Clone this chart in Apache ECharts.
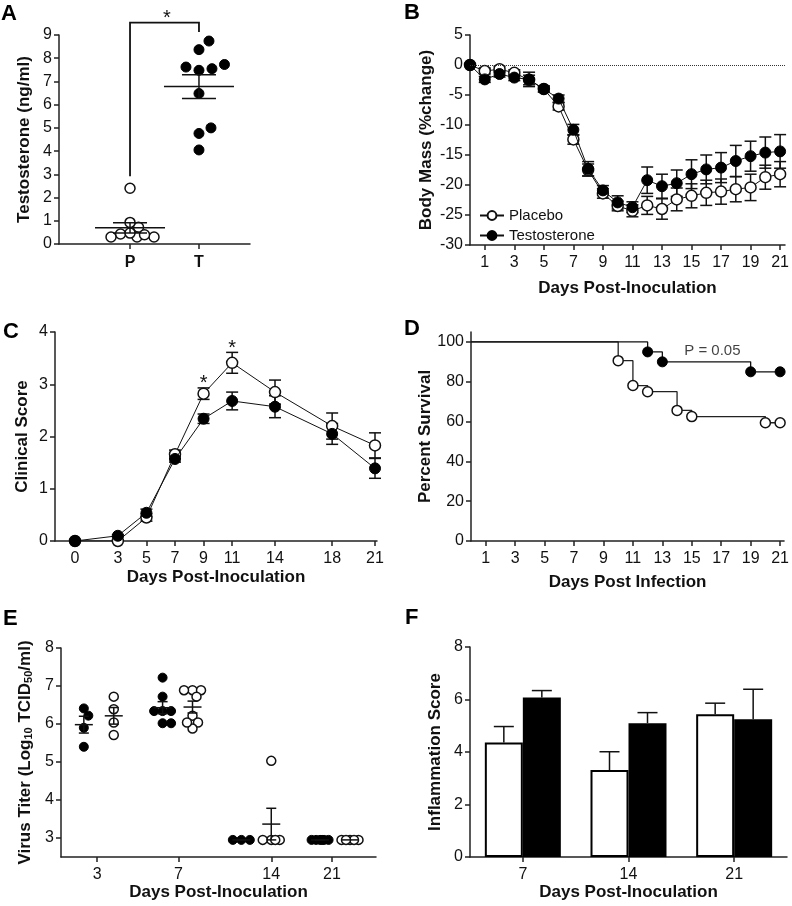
<!DOCTYPE html>
<html>
<head>
<meta charset="utf-8">
<script src="https://cdn.jsdelivr.net/npm/echarts@6/dist/echarts.min.js"></script>
<style>
html,body{margin:0;padding:0;background:#fff;}
#chart{width:792px;height:906px;}
</style>
</head>
<body>
<div id="chart"></div>
<script>
// ---------------- DATA ----------------
// Panel A: serum testosterone (ng/ml)
const aCategories = ['P', 'T'];
const aPlacebo = [2.4, 0.72, 0.93, 0.43, 0.30, 0.30, 0.30, 0.40, 0.47];
const aTestosterone = [8.74, 8.37, 7.73, 7.55, 7.48, 7.62, 6.48, 5.0, 4.76, 4.05];

// Panel B: body mass (% change)
const bDays = [0,1,2,3,4,5,6,7,8,9,10,11,12,13,14,15,16,17,18,19,20,21];
const bPlacebo = [0,-1.0,-0.7,-1.3,-2.5,-4.0,-6.9,-12.4,-17.5,-21.4,-23.5,-24.3,-23.4,-24.0,-22.4,-21.8,-21.3,-21.1,-20.7,-20.4,-18.7,-18.2];
const bPlaceboSem = [0,0.5,0.5,0.5,0.8,0.5,0.6,0.8,1.0,0.8,0.8,1.0,1.5,1.7,1.9,2.0,2.1,2.1,2.1,2.2,2.0,2.1];
const bTestosterone = [0,-2.4,-1.5,-2.1,-2.4,-4.0,-5.6,-10.8,-17.3,-20.9,-22.9,-23.7,-19.2,-20.2,-19.7,-18.2,-17.4,-17.1,-16.0,-15.2,-14.6,-14.4];
const bTestosteroneSem = [0,0.5,0.5,0.5,1.2,0.5,0.6,0.9,1.2,0.8,1.1,0.9,2.2,2.0,2.2,2.4,2.4,2.5,2.6,2.5,2.6,2.8];
const bXTicks = [1,3,5,7,9,11,13,15,17,19,21];

// Panel C: clinical score
const cDays = [0,3,5,7,9,11,14,18,21];
const cPlacebo = [0,0,0.45,1.66,2.82,3.41,2.85,2.2,1.83];
const cPlaceboSem = [0,0,0.07,0.08,0.11,0.2,0.23,0.25,0.24];
const cTestosterone = [0,0.1,0.54,1.57,2.34,2.68,2.57,2.05,1.39];
const cTestosteroneSem = [0,0.02,0.07,0.06,0.09,0.17,0.21,0.2,0.19];
const cSignificantDays = [9, 11];

// Panel D: survival (Kaplan-Meier)
const dPlaceboDays = [0,10,11,12,14,15,20,21];
const dPlaceboSurvival = [100,90.6,78.1,75.0,65.6,62.5,59.4,59.4];
const dTestosteroneDays = [0,12,13,19,21];
const dTestosteroneSurvival = [100,95,90,85,85];
const dXTicks = [1,3,5,7,9,11,13,15,17,19,21];
const dYTicks = [0,20,40,60,80,100];
const dPValue = 'P = 0.05';

// Panel E: virus titer (log10 TCID50/ml)
const eDays = ['3','7','14','21'];
const eTestosterone = [
  [6.22,6.41,5.90,5.40],
  [7.22,6.72,6.34,6.34,6.34,6.02,6.02],
  [2.95,2.95,2.95],
  [2.95,2.95,2.95,2.95,2.95,2.95]
];
const ePlacebo = [
  [6.72,6.39,6.04,5.71],
  [6.89,6.89,6.89,6.72,6.22,6.04,5.88,6.04],
  [5.03,2.95,2.95,2.95,2.95],
  [2.95,2.95,2.95,2.95,2.95]
];
const eYTicks = [3,4,5,6,7,8];

// Panel F: inflammation score
const fDays = ['7','14','21'];
const fPlacebo = [4.36,3.31,5.44];
const fPlaceboSem = [0.61,0.70,0.42];
const fTestosterone = [6.08,5.10,5.25];
const fTestosteroneSem = [0.26,0.40,1.14];

// ---------------- LAYOUT ----------------
const FONT = '"Liberation Sans", Arial, Helvetica, sans-serif';
const INK = '#111';
const TICK_FONT = 16;
const grids = [
  {left:59,  top:35,  width:191, height:209}, // A
  {left:470, top:35,  width:320, height:210}, // B
  {left:55,  top:332, width:322, height:209}, // C
  {left:471, top:332, width:319, height:209}, // D
  {left:61,  top:648, width:315, height:209}, // E
  {left:470, top:647, width:317, height:210}  // F
];
const AX = {min:-0.03, max:2.74};
const AY = {min:0, max:9};
const EX = {min:0, max:4};
const EY = {min:2.5, max:8};
const eFilledOffset = 0.29, eOpenOffset = 0.67;
const eTickOffsets = [0.46, 0.49, 0.67, 0.44];
const fBarWidth = 38;

function mean(a){ return a.reduce((s,v)=>s+v,0)/a.length; }
function sem(a){
  if (a.length < 2) return 0;
  const m = mean(a);
  const sd = Math.sqrt(a.reduce((s,v)=>s+(v-m)*(v-m),0)/(a.length-1));
  return sd/Math.sqrt(a.length);
}

// beeswarm layout limited to +/- maxHalf px; overlaps minimised when crowded
function swarm(values, pxPerY, diameter, maxHalf, ascending){
  const order = values.map((v,i)=>i).sort((a,b)=> ascending ? values[a]-values[b] : values[b]-values[a]);
  const placed = [];
  const off = new Array(values.length).fill(0);
  const steps = Math.floor(maxHalf/0.5);
  for (const i of order){
    const y = values[i]*pxPerY;
    const cands = [0];
    for (let k=1;k<=steps;k++){ cands.push(k*0.5, -k*0.5); }
    let best = null, bestOverlap = Infinity;
    for (const dx of cands){
      let ov = 0;
      for (const p of placed){
        const d = Math.hypot(p.x-dx, p.y-y);
        if (diameter - d > ov) ov = diameter - d;
      }
      if (ov <= 1e-6){ best = dx; bestOverlap = 0; break; }
      if (ov < bestOverlap - 1e-6){ bestOverlap = ov; best = dx; }
    }
    placed.push({x:best, y:y});
    off[i] = best;
  }
  return off;
}

function merge(base, extra){
  const out = Object.assign({}, base);
  for (const k in extra){
    if (extra[k] && typeof extra[k]==='object' && !Array.isArray(extra[k]) && base[k] && typeof base[k]==='object'){
      out[k] = Object.assign({}, base[k], extra[k]);
    } else out[k] = extra[k];
  }
  return out;
}
const axisBase = {
  axisLine:{show:true, onZero:false, lineStyle:{color:'#222', width:1.5}},
  axisTick:{show:true, inside:false, length:5, lineStyle:{color:'#222', width:1.5}},
  axisLabel:{show:true, color:INK, fontSize:TICK_FONT, fontFamily:FONT, margin:7},
  splitLine:{show:false},
  nameLocation:'middle',
  nameTextStyle:{color:INK, fontSize:17, fontWeight:'bold', fontFamily:FONT}
};
function ax(extra){ return merge(axisBase, extra); }

function errorBars(idx, xs, ys, sems, cap, opts){
  opts = opts || {};
  return {
    type:'custom', xAxisIndex:idx, yAxisIndex:idx, z: opts.z || 1, silent:true, clip:false,
    data: xs.map((x,i)=>[x, ys[i], sems[i]]),
    renderItem:(params, api)=>{
      const x = api.value(0), y = api.value(1), e = api.value(2);
      const up = api.coord([x, y+e]);
      const dn = api.coord([x, opts.upOnly ? y : y-e]);
      const px = up[0] + (opts.dx || 0);
      const st = {stroke:INK, lineWidth:1.5};
      const ch = [
        {type:'line', shape:{x1:px, y1:up[1], x2:px, y2:dn[1]}, style:st},
        {type:'line', shape:{x1:px-cap, y1:up[1], x2:px+cap, y2:up[1]}, style:st}
      ];
      if (!opts.upOnly) ch.push({type:'line', shape:{x1:px-cap, y1:dn[1], x2:px+cap, y2:dn[1]}, style:st});
      return {type:'group', children:ch};
    }
  };
}
function meanSem(idx, groups, halfMean, cap){
  return {
    type:'custom', xAxisIndex:idx, yAxisIndex:idx, z:5, silent:true, clip:false,
    data: groups.map(g=>[g.x, mean(g.values), sem(g.values)]),
    renderItem:(params, api)=>{
      const x = api.value(0), m = api.value(1), s = api.value(2);
      const c = api.coord([x, m]);
      const up = api.coord([x, m+s]);
      const dn = api.coord([x, m-s]);
      const st = {stroke:INK, lineWidth:1.5};
      const ch = [{type:'line', shape:{x1:c[0]-halfMean, y1:c[1], x2:c[0]+halfMean, y2:c[1]}, style:st}];
      if (s > 0){
        ch.push({type:'line', shape:{x1:c[0], y1:up[1], x2:c[0], y2:dn[1]}, style:st});
        ch.push({type:'line', shape:{x1:c[0]-cap, y1:up[1], x2:c[0]+cap, y2:up[1]}, style:st});
        ch.push({type:'line', shape:{x1:c[0]-cap, y1:dn[1], x2:c[0]+cap, y2:dn[1]}, style:st});
      }
      return {type:'group', children:ch};
    }
  };
}
const openStyle = {color:'#fff', borderColor:INK, borderWidth:1.5, opacity:1};
const filledStyle = {color:'#000', borderColor:'#000', borderWidth:1, opacity:1};

// ---------- Panel A swarm ----------
const aPxX = grids[0].width/(AX.max-AX.min), aPxY = grids[0].height/(AY.max-AY.min);
const aOffP = swarm(aPlacebo, aPxY, 9.5, 26, false);
const aOffT = swarm(aTestosterone, aPxY, 13, 26, true);
const aPlaceboPts = aPlacebo.map((v,i)=>[1 + aOffP[i]/aPxX, v]);
const aTestoPts = aTestosterone.map((v,i)=>[2 + aOffT[i]/aPxX, v]);

// ---------- Panel E swarm ----------
const ePxX = grids[4].width/(EX.max-EX.min), ePxY = grids[4].height/(EY.max-EY.min);
const eFilledPts = [], eOpenPts = [], eGroupsFilled = [], eGroupsOpen = [];
eDays.forEach((d,g)=>{
  const oT = swarm(eTestosterone[g], ePxY, 8.5, 9, false);
  eTestosterone[g].forEach((v,i)=>eFilledPts.push([g + eFilledOffset + oT[i]/ePxX, v]));
  eGroupsFilled.push({x:g + eFilledOffset, values:eTestosterone[g]});
  const oP = swarm(ePlacebo[g], ePxY, 8.5, 9, false);
  ePlacebo[g].forEach((v,i)=>eOpenPts.push([g + eOpenOffset + oP[i]/ePxX, v]));
  eGroupsOpen.push({x:g + eOpenOffset, values:ePlacebo[g]});
});
const eTickPos = eDays.map((d,g)=>g + eTickOffsets[g]);

const letter = (t, left, top) => ({type:'text', left:left, top:top,
  style:{text:t, fontSize:22, fontWeight:'bold', fontFamily:FONT, fill:'#000'}});

// ---------------- OPTION ----------------
const option = {
  animation:false,
  backgroundColor:'#fff',
  textStyle:{fontFamily:FONT},
  grid: grids.map(g=>Object.assign({containLabel:false}, g)),
  legend:{
    data:['Placebo','Testosterone'], orient:'vertical', left:474, top:203,
    itemWidth:24, itemHeight:11, itemGap:5, selectedMode:false,
    textStyle:{fontSize:15, color:INK, fontFamily:FONT}
  },
  xAxis:[
    ax({type:'value', gridIndex:0, min:AX.min, max:AX.max,
        axisTick:{customValues:[1,2]},
        axisLabel:{customValues:[1,2], formatter:v=>aCategories[Math.round(v)-1] || '', fontWeight:'bold', margin:11}}),
    ax({type:'value', gridIndex:1, min:0, max:21.33,
        axisTick:{customValues:bXTicks}, axisLabel:{customValues:bXTicks, margin:10},
        name:'Days Post-Inoculation', nameGap:35}),
    ax({type:'value', gridIndex:2, min:-1.4, max:21.14,
        axisTick:{customValues:cDays}, axisLabel:{customValues:cDays, margin:10},
        name:'Days Post-Inoculation', nameGap:28}),
    ax({type:'value', gridIndex:3, min:0, max:21.27,
        axisTick:{customValues:dXTicks}, axisLabel:{customValues:dXTicks, margin:10},
        name:'Days Post Infection', nameGap:33}),
    ax({type:'value', gridIndex:4, min:EX.min, max:EX.max,
        axisTick:{customValues:eTickPos},
        axisLabel:{customValues:eTickPos, margin:10, formatter:v=>{
          const g = eTickPos.findIndex(p=>Math.abs(p-v)<1e-6); return g>=0 ? eDays[g] : ''; }},
        name:'Days Post-Inoculation', nameGap:24}),
    ax({type:'category', gridIndex:5, data:fDays, boundaryGap:true,
        axisTick:{alignWithLabel:true}, axisLabel:{margin:10},
        name:'Days Post-Inoculation', nameGap:21})
  ],
  yAxis:[
    ax({type:'value', gridIndex:0, min:AY.min, max:AY.max, interval:1,
        name:'Testosterone (ng/ml)', nameGap:26}),
    ax({type:'value', gridIndex:1, min:-30, max:5, interval:5,
        name:'Body Mass (%change)', nameGap:35}),
    ax({type:'value', gridIndex:2, min:0, max:4, interval:1,
        name:'Clinical Score', nameGap:24}),
    ax({type:'value', gridIndex:3, min:0, max:105,
        axisTick:{customValues:dYTicks}, axisLabel:{customValues:dYTicks},
        name:'Percent Survival', nameGap:33}),
    ax({type:'value', gridIndex:4, min:EY.min, max:EY.max,
        axisTick:{customValues:eYTicks}, axisLabel:{customValues:eYTicks},
        name:'{b|Virus Titer (Log}{s|10}{b| TCID}{s|50}{b|/ml)}', nameGap:27,
        nameTextStyle:{rich:{
          b:{fontSize:17, fontWeight:'bold', fontFamily:FONT, color:INK, lineHeight:17, verticalAlign:'top'},
          s:{fontSize:11, fontWeight:'bold', fontFamily:FONT, color:INK, lineHeight:11, verticalAlign:'bottom', padding:[8,0,0,0]}
        }}}),
    ax({type:'value', gridIndex:5, min:0, max:8, interval:2,
        name:'Inflammation Score', nameGap:26})
  ],
  graphic:[
    letter('A', 1, 3), letter('B', 404, 2), letter('C', 3, 321),
    letter('D', 404, 318), letter('E', 3, 608), letter('F', 405, 607)
  ],
  series:[
    // ---- B ----
    {name:'Placebo', type:'line', xAxisIndex:1, yAxisIndex:1, z:2,
     data:bDays.map((d,i)=>[d, bPlacebo[i]]), symbol:'circle', symbolSize:11,
     lineStyle:{color:INK, width:1}, itemStyle:openStyle,
     markLine:{silent:true, symbol:'none', label:{show:false},
       lineStyle:{type:'dotted', color:'#333', width:1}, data:[{yAxis:0}]}},
    {name:'Testosterone', type:'line', xAxisIndex:1, yAxisIndex:1, z:3,
     data:bDays.map((d,i)=>[d, bTestosterone[i]]), symbol:'circle', symbolSize:11,
     lineStyle:{color:INK, width:1}, itemStyle:filledStyle},
    errorBars(1, bDays, bPlacebo, bPlaceboSem, 6),
    errorBars(1, bDays, bTestosterone, bTestosteroneSem, 6),

    // ---- A ----
    {name:'A Placebo', type:'scatter', xAxisIndex:0, yAxisIndex:0, z:3,
     data:aPlaceboPts, symbol:'circle', symbolSize:10, itemStyle:openStyle},
    {name:'A Testosterone', type:'scatter', xAxisIndex:0, yAxisIndex:0, z:3,
     data:aTestoPts, symbol:'circle', symbolSize:10, itemStyle:filledStyle},
    meanSem(0, [{x:1, values:aPlacebo}, {x:2, values:aTestosterone}], 35, 17),
    {type:'custom', xAxisIndex:0, yAxisIndex:0, z:5, silent:true, clip:false,
     data:[[1, Math.max(...aPlacebo), 2, Math.max(...aTestosterone)]],
     renderItem:(params, api)=>{
       const pL = api.coord([api.value(0), api.value(1)]);
       const pR = api.coord([api.value(2), api.value(3)]);
       const topY = pR[1] - 18.5;
       const st = {stroke:INK, lineWidth:1.8, fill:null};
       return {type:'group', children:[
         {type:'polyline', shape:{points:[[pL[0], pL[1]-12],[pL[0], topY],[pR[0], topY],[pR[0], pR[1]-9]]}, style:st},
         {type:'text', style:{text:'*', x:(pL[0]+pR[0])/2+2.5, y:topY-4.5, align:'center', verticalAlign:'middle',
           textAlign:'center', textVerticalAlign:'middle', fontSize:20, fontFamily:FONT, fill:INK}}
       ]};
     }},

    // ---- C ----
    errorBars(2, cDays, cPlacebo, cPlaceboSem, 6),
    errorBars(2, cDays, cTestosterone, cTestosteroneSem, 6),
    {name:'C Placebo', type:'line', xAxisIndex:2, yAxisIndex:2, z:2,
     data:cDays.map((d,i)=>[d, cPlacebo[i]]), symbol:'circle', symbolSize:11,
     lineStyle:{color:INK, width:1}, itemStyle:openStyle},
    {name:'C Testosterone', type:'line', xAxisIndex:2, yAxisIndex:2, z:3,
     data:cDays.map((d,i)=>[d, cTestosterone[i]]), symbol:'circle', symbolSize:11,
     lineStyle:{color:INK, width:1}, itemStyle:filledStyle},
    {type:'custom', xAxisIndex:2, yAxisIndex:2, z:5, silent:true, clip:false,
     data:cSignificantDays.map(d=>{ const i = cDays.indexOf(d); return [d, cPlacebo[i] + cPlaceboSem[i]]; }),
     renderItem:(params, api)=>{
       const p = api.coord([api.value(0), api.value(1)]);
       return {type:'text', style:{text:'*', x:p[0], y:p[1]-4, align:'center', verticalAlign:'middle',
         textAlign:'center', textVerticalAlign:'middle', fontSize:20, fontFamily:FONT, fill:INK}};
     }},

    // ---- D ----
    {name:'D Placebo', type:'line', xAxisIndex:3, yAxisIndex:3, z:2, step:'end',
     data:dPlaceboDays.map((d,i)=> i===0 ? {value:[d, dPlaceboSurvival[i]], symbol:'none'} : [d, dPlaceboSurvival[i]]),
     symbol:'circle', symbolSize:10, showAllSymbol:true,
     lineStyle:{color:'#222', width:1.3}, itemStyle:openStyle},
    {name:'D Testosterone', type:'line', xAxisIndex:3, yAxisIndex:3, z:3, step:'end',
     data:dTestosteroneDays.map((d,i)=> i===0 ? {value:[d, dTestosteroneSurvival[i]], symbol:'none'} : [d, dTestosteroneSurvival[i]]),
     symbol:'circle', symbolSize:10, showAllSymbol:true,
     lineStyle:{color:INK, width:1.3}, itemStyle:filledStyle},
    {type:'scatter', xAxisIndex:3, yAxisIndex:3, silent:true, symbolSize:1,
     itemStyle:{color:'rgba(0,0,0,0)'},
     data:[[16.4, 95.5]],
     label:{show:true, position:'inside', formatter:dPValue, fontSize:15, color:INK, fontFamily:FONT}},

    // ---- E ----
    {name:'E Testosterone', type:'scatter', xAxisIndex:4, yAxisIndex:4, z:3,
     data:eFilledPts, symbol:'circle', symbolSize:9, itemStyle:filledStyle},
    {name:'E Placebo', type:'scatter', xAxisIndex:4, yAxisIndex:4, z:3,
     data:eOpenPts, symbol:'circle', symbolSize:9, itemStyle:openStyle},
    meanSem(4, eGroupsFilled.concat(eGroupsOpen), 9, 5),

    // ---- F ----
    {name:'F Placebo', type:'bar', xAxisIndex:5, yAxisIndex:5, z:2,
     data:fPlacebo, barWidth:fBarWidth, barGap:'0%',
     itemStyle:{color:'#fff', borderColor:'#000', borderWidth:2}},
    {name:'F Testosterone', type:'bar', xAxisIndex:5, yAxisIndex:5, z:2,
     data:fTestosterone, barWidth:fBarWidth, barGap:'0%',
     itemStyle:{color:'#000', borderColor:'#000', borderWidth:2}},
    errorBars(5, fDays.map((d,i)=>i), fPlacebo, fPlaceboSem, 10, {upOnly:true, dx:-fBarWidth/2, z:1}),
    errorBars(5, fDays.map((d,i)=>i), fTestosterone, fTestosteroneSem, 10, {upOnly:true, dx:fBarWidth/2, z:1})
  ]
};

const chart = echarts.init(document.getElementById('chart'), null, {renderer:'canvas', width:792, height:906});
chart.setOption(option);
</script>
</body>
</html>
